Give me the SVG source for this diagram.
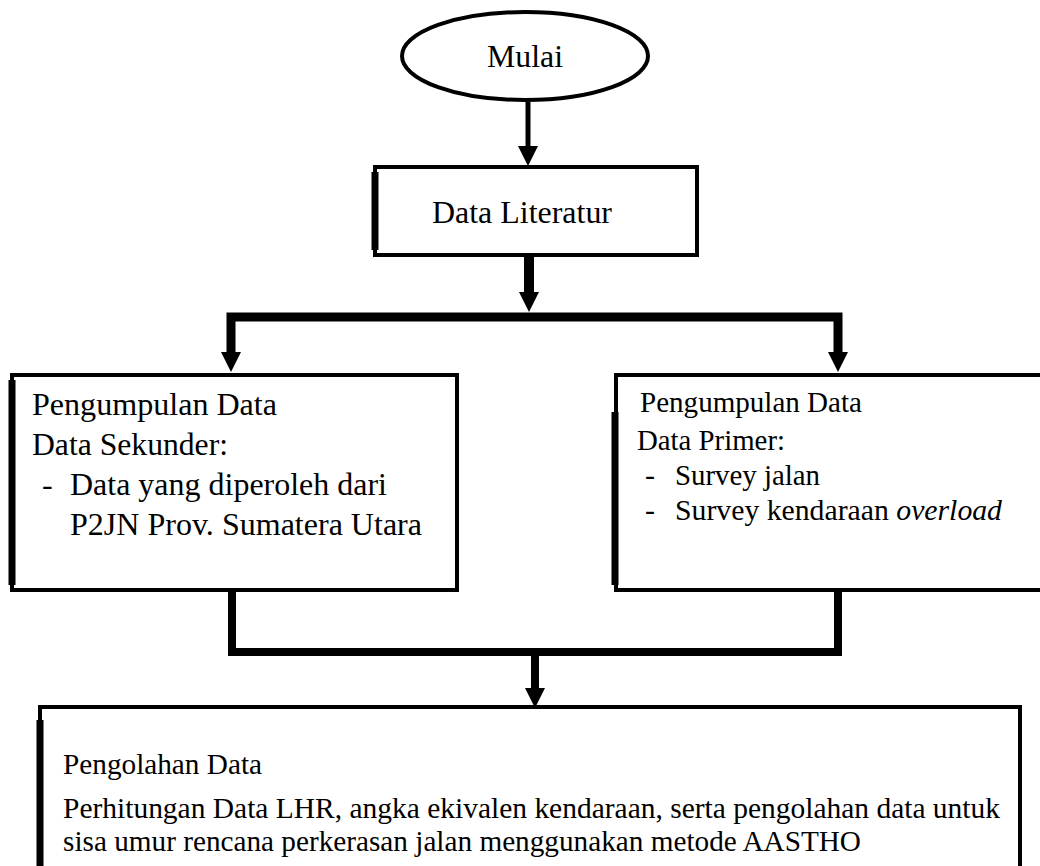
<svg xmlns="http://www.w3.org/2000/svg" width="1040" height="866" viewBox="0 0 1040 866">
<defs>
<style>
.node{fill:#fff;stroke:#000;stroke-width:4}
.edge{stroke:#000;stroke-width:7}
.c{fill:none;stroke:#000;stroke-linejoin:miter}
text{font-family:"Liberation Serif","Times New Roman",serif;fill:#000}
</style>
<marker id="ah" viewBox="0 -10 20 20" refX="0" refY="0" markerWidth="20" markerHeight="20" markerUnits="userSpaceOnUse" orient="auto">
<path d="M0,-10 L20,0 L0,10 z" fill="#000"/>
</marker>
</defs>
<rect width="1040" height="866" fill="#fff"/>
<g id="connectors">
<path class="c" d="M528,102 L528,146" stroke-width="5" marker-end="url(#ah)"/>
<path class="c" d="M529,257 L529,292" stroke-width="10" marker-end="url(#ah)"/>
<path class="c" d="M529,317 L231,317 L231,352" stroke-width="9" marker-end="url(#ah)"/>
<path class="c" d="M529,317 L838,317 L838,352" stroke-width="9" marker-end="url(#ah)"/>
<path class="c" d="M232,592 L232,652 L535,652 L535,688" stroke-width="8" marker-end="url(#ah)"/>
<path class="c" d="M838,592 L838,652 L535,652" stroke-width="8"/>
</g>
<g id="mulai">
<ellipse class="node" cx="525" cy="56" rx="123" ry="44" stroke-width="5"/>
<text x="487" y="67" font-size="32" textLength="76" lengthAdjust="spacingAndGlyphs">Mulai</text>
</g>
<g id="data-literatur">
<rect class="node" x="375" y="167" width="322" height="88"/>
<line class="edge" x1="375" y1="172" x2="375" y2="250"/>
<text x="432" y="223" font-size="32" textLength="180" lengthAdjust="spacingAndGlyphs">Data Literatur</text>
</g>
<g id="data-sekunder">
<rect class="node" x="12" y="375" width="445" height="215"/>
<line class="edge" x1="12" y1="380" x2="12" y2="585"/>
<text x="32" y="415" font-size="32" textLength="245" lengthAdjust="spacingAndGlyphs">Pengumpulan Data</text>
<text x="32" y="455" font-size="32" textLength="196" lengthAdjust="spacingAndGlyphs">Data Sekunder:</text>
<text x="42" y="495" font-size="32">-</text>
<text x="70" y="495" font-size="32" textLength="317" lengthAdjust="spacingAndGlyphs">Data yang diperoleh dari</text>
<text x="70" y="535" font-size="32" textLength="352" lengthAdjust="spacingAndGlyphs">P2JN Prov. Sumatera Utara</text>
</g>
<g id="data-primer">
<rect class="node" x="616" y="375" width="440" height="215"/>
<line class="edge" x1="615" y1="412" x2="615" y2="585"/>
<text x="640" y="412" font-size="29" textLength="222" lengthAdjust="spacingAndGlyphs">Pengumpulan Data</text>
<text x="637" y="450" font-size="30" textLength="148" lengthAdjust="spacingAndGlyphs">Data Primer:</text>
<text x="645" y="485" font-size="30">-</text>
<text x="675" y="485" font-size="30" textLength="145" lengthAdjust="spacingAndGlyphs">Survey jalan</text>
<text x="645" y="520" font-size="30">-</text>
<text x="675" y="520" font-size="30" textLength="327" lengthAdjust="spacingAndGlyphs">Survey  kendaraan <tspan font-style="italic">overload</tspan></text>
</g>
<g id="pengolahan-data">
<rect class="node" x="40" y="707" width="980" height="180"/>
<line class="edge" x1="40" y1="720" x2="40" y2="866"/>
<text x="63" y="774" font-size="29" textLength="199" lengthAdjust="spacingAndGlyphs">Pengolahan Data</text>
<text x="63" y="818" font-size="29" textLength="937" lengthAdjust="spacingAndGlyphs">Perhitungan Data LHR, angka ekivalen kendaraan, serta pengolahan data untuk</text>
<text x="63" y="851" font-size="29" textLength="798" lengthAdjust="spacingAndGlyphs">sisa umur rencana perkerasan jalan menggunakan metode AASTHO</text>
</g>
</svg>
